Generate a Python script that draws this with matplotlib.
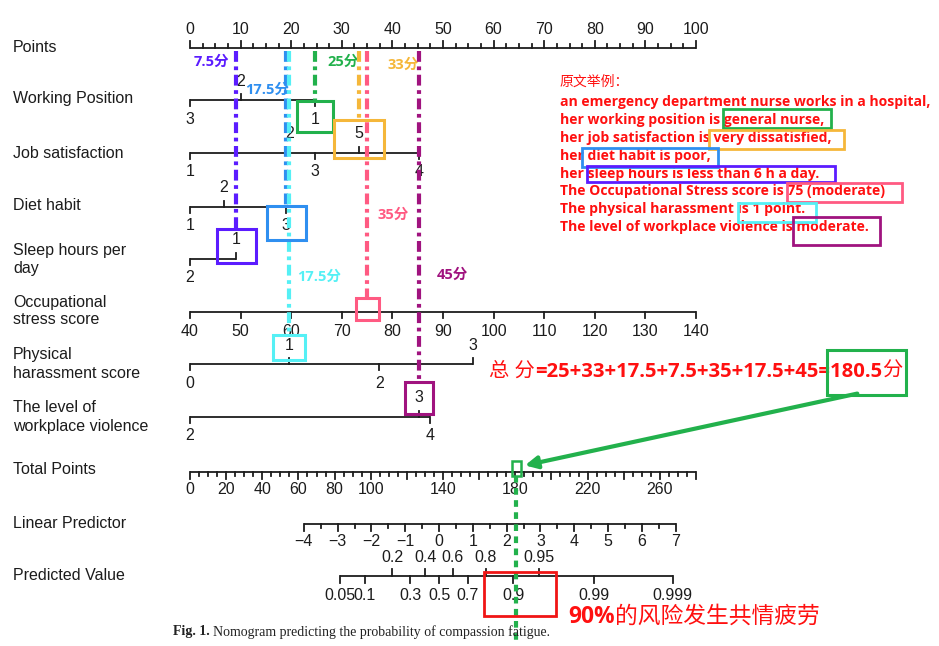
import numpy as np
import matplotlib
matplotlib.use("Agg")
import matplotlib.pyplot as plt
from matplotlib.patches import Rectangle

# ---- nomogram data (points scale 0-100) ----
row_names = ["Points", "Working Position", "Job satisfaction", "Diet habit",
             "Sleep hours per\nday", "Occupational\nstress score",
             "Physical\nharassment score", "The level of\nworkplace violence",
             "Total Points", "Linear Predictor", "Predicted Value"]

wp_labels = ["3", "2", "1"]
wp_points = [0, 10, 24.7]
js_labels = ["1", "2", "3", "5", "4"]
js_points = [0, 19.6, 24.7, 33.4, 45.3]
diet_labels = ["1", "2", "3"]
diet_points = [0, 6.7, 19.0]
sleep_labels = ["2", "1"]
sleep_points = [0, 9.1]
stress_ticks = [40, 50, 60, 70, 80, 90, 100, 110, 120, 130, 140]
harass_labels = ["0", "1", "2", "3"]
harass_points = [0, 19.6, 37.4, 56.0]
viol_labels = ["2", "3", "4"]
viol_points = [0, 45.3, 47.4]

total_labels = [0, 20, 40, 60, 80, 100, 140, 180, 220, 260]
total_max = 280
lp_ticks = [-4, -3, -2, -1, 0, 1, 2, 3, 4, 5, 6, 7]
pred_up = [0.2, 0.4, 0.6, 0.8, 0.95]
pred_down = [0.05, 0.1, 0.3, 0.5, 0.7, 0.9, 0.99, 0.999]

# example patient
sel_scores = ["25分", "33分", "17.5分", "7.5分", "35分", "17.5分", "45分"]
total_score = 180.5
example_lines = ["an emergency department nurse works in a hospital,",
                 "her working position is general nurse,",
                 "her job satisfaction is very dissatisfied,",
                 "her diet habit is poor,",
                 "her sleep hours is less than 6 h a day.",
                 "The Occupational Stress score is 75 (moderate)",
                 "The physical harassment is 1 point.",
                 "The level of workplace violence is moderate."]

# ---- layout ----
X0, SC = 190, 5.06          # pixel of 0 points, pixels per point
def px(p):
    return X0 + p * SC
def lp_to_pts(lp):
    return 22.5 + (lp + 4) * 6.68
def tot_to_pts(t):
    return t * 100.0 / total_max

row_y = [48, 100, 153, 207, 259, 312, 364, 417, 472, 524, 576]
label_y = [47, 98, 153, 206, 259, 311, 364, 417, 470, 523, 575]

INK = "#1c1c1c"
LAB = dict(family="Liberation Sans", fontsize=11.5, color=INK)

fig = plt.figure(figsize=(9.39, 6.46), dpi=100)
ax = fig.add_axes([0, 0, 1, 1])
ax.set_xlim(0, 939)
ax.set_ylim(646, 0)
ax.axis("off")

for name, y in zip(row_names, label_y):
    ax.text(13, y, name, ha="left", va="center", linespacing=1.25, **LAB)

def hline(x1, x2, y):
    ax.plot([x1, x2], [y, y], color=INK, lw=1.3, solid_capstyle="butt")

def tick(x, y, ln):
    ax.plot([x, x], [y, y + ln], color=INK, lw=1.3)

def cat_row(labs, pts, sides, y):
    hline(px(min(pts)), px(max(pts)), y)
    for lab, p, s in zip(labs, pts, sides):
        if s == "u":
            tick(px(p), y, -6)
            ax.text(px(p), y - 19, lab, ha="center", va="center", **LAB)
        else:
            tick(px(p), y, 6)
            ax.text(px(p), y + 19, lab, ha="center", va="center", **LAB)

# Points axis (labels above, ticks up)
y = row_y[0]
hline(px(0), px(100), y)
for p in np.arange(0, 100.01, 2.5):
    tick(px(p), y, -7 if p % 10 == 0 else -4)
for p in range(0, 101, 10):
    ax.text(px(p), 29, str(p), ha="center", va="center", **LAB)

cat_row(wp_labels, wp_points, ["d", "u", "d"], row_y[1])
cat_row(js_labels, js_points, ["d", "u", "d", "u", "d"], row_y[2])
cat_row(diet_labels, diet_points, ["d", "u", "d"], row_y[3])
cat_row(sleep_labels, sleep_points, ["d", "u"], row_y[4])

# stress
y = row_y[5]
hline(px(0), px(100), y)
for s in stress_ticks:
    tick(px(s - 40), y, 6)
    ax.text(px(s - 40), y + 19, str(s), ha="center", va="center", **LAB)

cat_row(harass_labels, harass_points, ["d", "u", "d", "u"], row_y[6])
cat_row(viol_labels, viol_points, ["d", "u", "d"], row_y[7])

# total points
y = row_y[8]
hline(px(0), px(100), y)
for t in range(0, total_max + 1, 5):
    tick(px(tot_to_pts(t)), y, 7 if t % 20 == 0 else 4)
for t in total_labels:
    ax.text(px(tot_to_pts(t)), y + 18, str(t), ha="center", va="center", **LAB)

# linear predictor
y = row_y[9]
hline(px(lp_to_pts(-4)), px(lp_to_pts(7)), y)
for v in np.arange(-4, 7.01, 0.5):
    tick(px(lp_to_pts(v)), y, 7 if v == int(v) else 4)
for v in lp_ticks:
    ax.text(px(lp_to_pts(v)), y + 17, str(v).replace("-", "\u2212"),
            ha="center", va="center", **LAB)

# predicted value
y = row_y[10]
logit = lambda p: np.log(p / (1 - p))
hline(px(lp_to_pts(logit(0.05))), px(lp_to_pts(logit(0.999))), y)
for p in pred_up:
    x = px(lp_to_pts(logit(p)))
    tick(x, y, -7)
    ax.text(x, y - 19, f"{p:g}", ha="center", va="center", **LAB)
for p in pred_down:
    x = px(lp_to_pts(logit(p)))
    tick(x, y, 7)
    ax.text(x, y + 19, f"{p:g}", ha="center", va="center", **LAB)

# ---- example annotations ----
CJK = ["Noto Sans CJK SC"]
sel_pts = [wp_points[2], js_points[3], diet_points[2], sleep_points[1],
           75 - 40, harass_points[1], viol_points[1]]
sel_rows = [1, 2, 3, 4, 5, 6, 7]
sel_cols = ["#22b14c", "#f5b73a", "#2f8ff0", "#5b1cff", "#ff5a82", "#55f0f5", "#a0137f"]
# box size (w, h) and vertical offset of box centre from the row line
box_geom = [(36, 31, 16), (50, 38, -14), (39, 34, 16), (39, 34, -13),
            (23, 22, -3), (32, 25, -17), (28, 32, -19)]
# score label offsets (dx, y)
score_pos = [(28, 62), (44, 65), (-19, 90), (-25, 62), (26, 215), (30, 277), (33, 275)]

dashdot = (0, (2.6, 1.1, 0.9, 1.1))
for p, r, c, (bw, bh, dy), (dx, ty), sc in zip(sel_pts, sel_rows, sel_cols,
                                               box_geom, score_pos, sel_scores):
    x = px(p)
    yc = row_y[r] + dy
    ax.add_patch(Rectangle((x - bw / 2, yc - bh / 2), bw, bh, fill=False,
                           ec=c, lw=2.2, zorder=4))
    ax.plot([x, x], [row_y[0] + 3, yc - bh / 2], color=c, lw=3,
            linestyle=dashdot, zorder=3)
    ax.text(x + dx, ty, sc, color=c, fontsize=10.5, fontweight="bold",
            ha="center", va="center", family=["Open Sans"] + CJK)

# total score line
GREEN = "#22b14c"
xt = px(tot_to_pts(total_score))
ax.add_patch(Rectangle((xt - 4.5, row_y[8] - 11), 9, 15, fill=False, ec=GREEN, lw=1.8, zorder=4))
ax.plot([xt, xt], [row_y[8] + 4, 642], color=GREEN, lw=3, linestyle=(0, (1.6, 1.3)), zorder=3)
ax.add_patch(Rectangle((484, 572), 72, 44, fill=False, ec="#f01515", lw=2, zorder=4))

# example text block
RED = "#ff1010"
ax.text(560, 82, "原文举例：", color=RED, fontsize=10, family=CJK, va="center")
for i, line in enumerate(example_lines):
    ax.text(560, 102 + i * 17.9, line, color=RED, fontsize=10.1, fontweight="bold",
            family="Open Sans", va="center")
text_boxes = [((723, 109), 108, 19, "#22b14c"), ((709, 130), 135, 19, "#f5b73a"),
              ((582, 148), 136, 19, "#2f8ff0"), ((587, 166), 248, 16, "#5b1cff"),
              ((787, 183), 115, 19, "#ff5a82"), ((738, 203), 78, 19, "#55f0f5"),
              ((793, 217), 87, 28, "#a0137f")]
for (xy, w, h, c) in text_boxes:
    ax.add_patch(Rectangle(xy, w, h, fill=False, ec=c, lw=2, zorder=4))

# formula with mixed weights
fig.canvas.draw()
rend = fig.canvas.get_renderer()
xcur = 489
for piece, wt in [("总 分", "normal"), ("=25+33+17.5+7.5+35+17.5+45=180.5", "bold"), ("分", "normal")]:
    t = ax.text(xcur, 372, piece, color=RED, fontsize=14.6, fontweight=wt,
                family=["Open Sans"] + CJK, va="center")
    xcur = t.get_window_extent(rend).x1
ax.add_patch(Rectangle((827, 350), 79, 45, fill=False, ec=GREEN, lw=2.2, zorder=4))
ax.annotate("", xy=(xt + 6, row_y[8] - 6), xytext=(860, 393),
            arrowprops=dict(arrowstyle="-|>", color=GREEN, lw=3, mutation_scale=18))

xcur = 568
for piece, wt in [("90%", "bold"), ("的风险发生共情疲劳", "normal")]:
    t = ax.text(xcur, 617, piece, color=RED, fontsize=16.4, fontweight=wt,
                family=["Open Sans"] + CJK, va="center")
    xcur = t.get_window_extent(rend).x1

# caption
t = ax.text(173, 632, "Fig. 1.", fontsize=10, fontweight="bold", family="Liberation Serif",
            va="center", color="#222222")
x1 = t.get_window_extent(rend).x1
ax.text(x1 + 3, 632, "Nomogram predicting the probability of compassion fatigue.",
        fontsize=10, family="Liberation Serif", va="center", color="#222222")

fig.savefig("out.png", dpi=100)
